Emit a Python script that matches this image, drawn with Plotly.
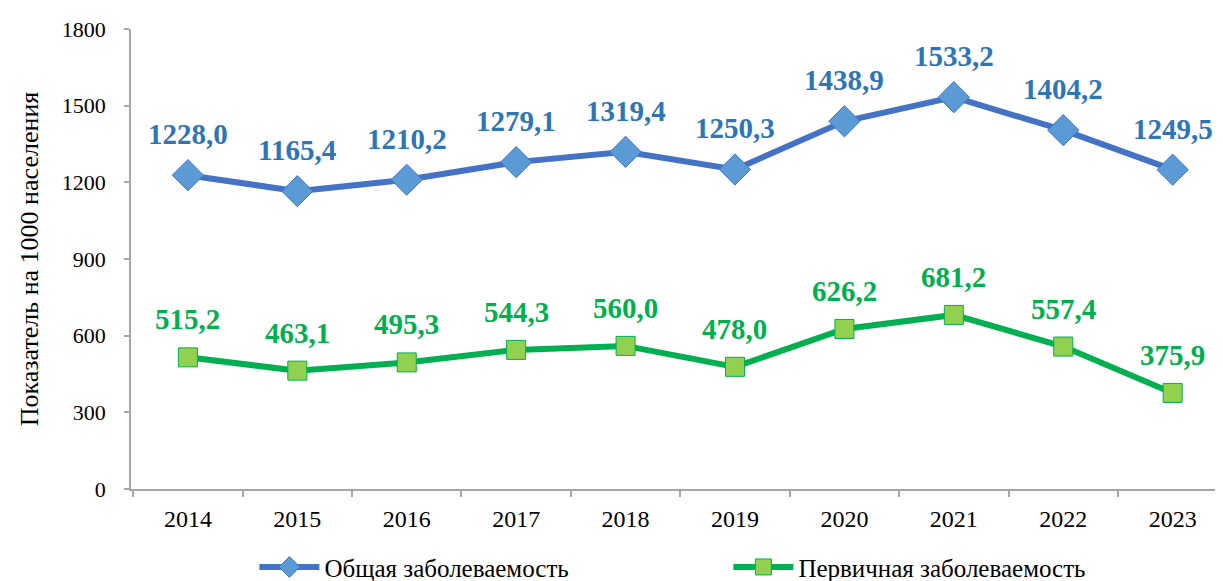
import plotly.graph_objects as go

years = ["2014", "2015", "2016", "2017", "2018", "2019", "2020", "2021", "2022", "2023"]
general = [1228.0, 1165.4, 1210.2, 1279.1, 1319.4, 1250.3, 1438.9, 1533.2, 1404.2, 1249.5]
primary = [515.2, 463.1, 495.3, 544.3, 560.0, 478.0, 626.2, 681.2, 557.4, 375.9]
name_general = "Общая заболеваемость"
name_primary = "Первичная заболеваемость"
y_title = "Показатель на 1000 населения"

def fmt(v):
    return f"{v:.1f}".replace(".", ",")

xs = list(range(len(years)))
font = "Liberation Serif"

fig = go.Figure()
fig.add_trace(go.Scatter(
    x=xs, y=general, name=name_general, mode="lines+markers",
    line=dict(color="#4472C4", width=6),
    marker=dict(symbol="diamond", size=24, color="#5B9BD5", line=dict(color="#4472C4", width=1)),
))
fig.add_trace(go.Scatter(
    x=xs, y=primary, name=name_primary, mode="lines+markers",
    line=dict(color="#00B050", width=6),
    marker=dict(symbol="square", size=19, color="#92D050", line=dict(color="#00B050", width=1)),
))

for x, v in zip(xs, general):
    fig.add_annotation(x=x, y=v, text=fmt(v), showarrow=False, yshift=41,
                       font=dict(family=font, size=29, color="#2E75B6", weight="bold"))
for x, v in zip(xs, primary):
    fig.add_annotation(x=x, y=v, text=fmt(v), showarrow=False, yshift=38,
                       font=dict(family=font, size=29, color="#00B050", weight="bold"))

fig.update_layout(
    width=1215, height=573,
    margin=dict(l=123, r=0, t=21, b=92, autoexpand=False),
    paper_bgcolor="white", plot_bgcolor="white",
    font=dict(family=font, size=23, color="black"),
    showlegend=True,
    legend=dict(orientation="h", x=0.113, xanchor="left", y=-0.12, yanchor="top",
                font=dict(family=font, size=25), itemwidth=60, entrywidth=399,
                tracegroupgap=0),
)
fig.update_xaxes(
    range=[-0.52, 9.46], tickvals=xs, ticktext=years, ticks="", showgrid=False,
    showline=True, linecolor="#A6A6A6", linewidth=1.5, zeroline=False, automargin=False,
    tickfont=dict(family=font, size=24), ticklabelstandoff=7,
    minor=dict(tickvals=[i - 0.5 for i in range(len(years) + 1)], ticks="outside",
               ticklen=6, tickcolor="#A6A6A6", tickwidth=1.5, showgrid=False),
)
fig.update_yaxes(
    range=[0, 1800], tickvals=[0, 300, 600, 900, 1200, 1500, 1800],
    ticks="outside", ticklen=5, tickcolor="#A6A6A6", tickwidth=1.5, automargin=False,
    showgrid=False, showline=True, linecolor="#A6A6A6", linewidth=1.5, zeroline=False,
    tickfont=dict(family=font, size=22), ticklabelstandoff=14,
    title=dict(text=y_title, font=dict(family=font, size=26), standoff=16),
)

fig.write_html("out.html")
